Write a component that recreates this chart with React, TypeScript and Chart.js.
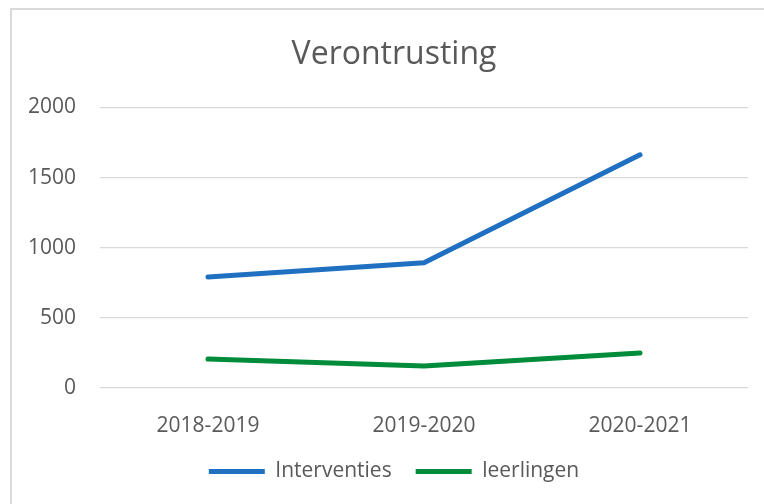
import React, { useEffect, useRef } from "react";
import { Chart, registerables } from "chart.js";

Chart.register(...registerables);

const categories = ["2018-2019", "2019-2020", "2020-2021"];
const interventies = [791, 892, 1662];
const leerlingen = [207, 157, 250];
const seriesNames = ["Interventies", "leerlingen"];
const chartTitle = "Verontrusting";
const yTicks = [0, 500, 1000, 1500, 2000];

const TEXT = "#595959";
const FONT = "'Open Sans', 'Liberation Sans', sans-serif";

const framePlugin = {
  id: "frame",
  beforeDraw(chart: any) {
    const ctx = chart.ctx;
    ctx.save();
    ctx.fillStyle = "#ffffff";
    ctx.fillRect(0, 0, chart.width, chart.height);
    ctx.strokeStyle = "#d9d9d9";
    ctx.lineWidth = 2;
    ctx.beginPath();
    ctx.moveTo(11, chart.height);
    ctx.lineTo(11, 9);
    ctx.lineTo(chart.width, 9);
    ctx.stroke();
    ctx.restore();
  },
};

export default function App() {
  const ref = useRef<HTMLCanvasElement | null>(null);
  useEffect(() => {
    if (!ref.current) return;
    const chart = new Chart(ref.current, {
      type: "line",
      data: {
        labels: categories,
        datasets: [
          {
            label: seriesNames[0],
            data: interventies,
            borderColor: "#1f70c1",
            backgroundColor: "#1f70c1",
            borderWidth: 5,
            borderCapStyle: "round",
            borderJoinStyle: "round",
            pointRadius: 0,
            pointHoverRadius: 0,
            tension: 0,
          },
          {
            label: seriesNames[1],
            data: leerlingen,
            borderColor: "#008c3a",
            backgroundColor: "#008c3a",
            borderWidth: 5,
            borderCapStyle: "round",
            borderJoinStyle: "round",
            pointRadius: 0,
            pointHoverRadius: 0,
            tension: 0,
          },
        ],
      },
      options: {
        responsive: false,
        animation: false,
        devicePixelRatio: 1,
        layout: { padding: { left: 24, right: 0, top: 0, bottom: 12 } },
        plugins: {
          tooltip: { enabled: false },
          title: {
            display: true,
            text: chartTitle,
            color: TEXT,
            font: { family: FONT, size: 32, weight: "normal", lineHeight: 1.2 },
            padding: { top: 36, bottom: 33 },
          },
          legend: {
            display: true,
            position: "bottom",
            labels: {
              usePointStyle: true,
              pointStyle: "line",
              pointStyleWidth: 56,
              color: TEXT,
              padding: 24,
              font: { family: FONT, size: 21 },
            },
          },
        },
        scales: {
          x: {
            offset: true,
            grid: { display: false, drawTicks: false },
            border: { display: false },
            ticks: {
              color: TEXT,
              font: { family: FONT, size: 21 },
              padding: 25,
              maxRotation: 0,
            },
            afterFit(scale: any) {
              scale.height = 49;
            },
          },
          y: {
            min: 0,
            max: 2000,
            afterBuildTicks(scale: any) {
              scale.ticks = yTicks.map((v) => ({ value: v }));
            },
            grid: { color: "#d9d9d9", lineWidth: 1.3, drawTicks: false },
            border: { display: false },
            ticks: {
              color: TEXT,
              font: { family: FONT, size: 21 },
              padding: 24,
              callback: (v: any) => String(v),
            },
            afterFit(scale: any) {
              scale.width = 76;
            },
          },
          yRightSpace: {
            position: "right",
            display: true,
            min: 0,
            max: 2000,
            grid: { display: false, drawTicks: false },
            border: { display: false },
            ticks: { display: false },
            afterFit(scale: any) {
              scale.width = 16;
            },
          },
        },
      },
      plugins: [framePlugin],
    });
    return () => chart.destroy();
  }, []);
  return (
    <div style={{ position: "fixed", left: 0, top: 0, width: 764, height: 504, background: "#fff" }}>
      <canvas ref={ref} width={764} height={504} style={{ width: 764, height: 504, display: "block" }} />
    </div>
  );
}
